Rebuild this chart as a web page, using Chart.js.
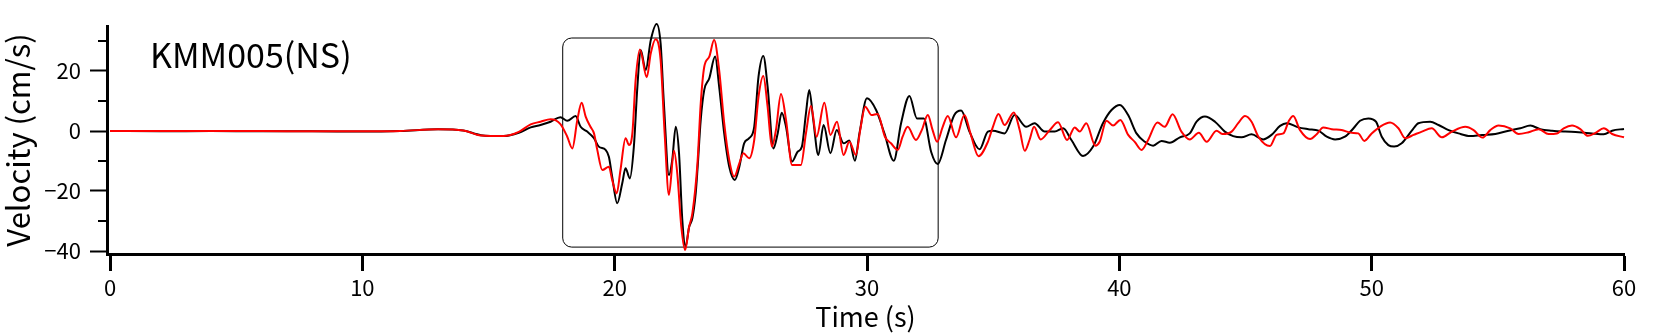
<!DOCTYPE html>
<html>
<head>
<meta charset="utf-8">
<script src="https://cdn.jsdelivr.net/npm/chart.js@4.4.1/dist/chart.umd.min.js"></script>
<style>
html,body{margin:0;padding:0;background:#fff;}
#wrap{width:1672px;height:333px;}
</style>
</head>
<body>
<div id="wrap"><canvas id="c" width="1672" height="333"></canvas></div>
<script>
// ---- data ----
const stationLabel = 'KMM005(NS)';
const xTitle = 'Time (s)';
const yTitle = 'Velocity (cm/s)';
const xTicks = [0, 10, 20, 30, 40, 50, 60];
const yTicks = [-40, -20, 0, 20];
const yTickLabels = ['\u221240', '\u221220', '0', '20'];
const yMinorTicks = [-30, -10, 10, 30];
const boxX = [17.94, 32.82];
const boxY = [-38.7, 31];

const blackT = [0,2,4,6,8,10,11.5,13,14,14.7,15.6,16.2,16.67,17.06,17.46,17.85,18.12,18.45,18.65,18.91,19.18,19.37,19.64,19.77,19.90,20.10,20.30,20.43,20.6,20.76,20.90,21.03,21.23,21.43,21.66,21.82,21.95,22.15,22.28,22.42,22.55,22.68,22.81,22.95,23.08,23.21,23.28,23.41,23.55,23.75,23.98,24.14,24.34,24.54,24.76,24.94,25.13,25.33,25.53,25.7,25.89,26.06,26.29,26.46,26.62,26.79,27.03,27.25,27.42,27.58,27.71,27.87,28.07,28.28,28.55,28.8,29.07,29.3,29.52,29.7,30.0,30.36,30.69,31.06,31.35,31.68,31.98,32.25,32.54,32.8,33.13,33.46,33.73,34.06,34.46,34.79,34.99,35.45,35.85,36.31,36.64,37.04,37.44,37.77,38.1,38.56,38.96,39.35,39.69,40.02,40.35,40.68,41.01,41.34,41.67,42.0,42.4,42.79,43.06,43.39,43.79,44.18,44.51,44.84,45.24,45.7,46.03,46.37,46.63,47.09,47.49,47.89,48.22,48.55,48.94,49.28,49.54,49.87,50.17,50.4,50.66,50.89,51.19,51.59,51.85,52.32,52.65,53.05,53.44,53.9,54.37,54.9,55.43,55.89,56.29,56.68,57.15,57.67,58.2,58.73,59.2,59.53,60];
const blackV = [0,-0.1,0,-0.1,-0.1,-0.2,0,0.6,0.2,-1.4,-1.7,-0.6,1.2,2.0,3.1,4.6,3.4,5.0,1.4,-0.2,-2.4,-5.2,-6.3,-8.6,-15.2,-24.1,-17.4,-12.4,-15.8,-5.2,14.8,27,20.3,30.3,35.7,29.2,9.2,-14.7,-9.7,1.4,-7.4,-29.7,-38.5,-32,-29,-20.8,-13,3.7,13.7,17.6,24.8,14.8,-0.8,-11.9,-16.3,-11.9,-4.1,-2.4,1.4,18.1,25,14.8,-5.8,-0.8,6.1,1.4,-10.2,-6.9,-5.2,5.9,13.7,3.7,-8,2,-7.4,0.3,-4.1,-3.2,-9.9,-0.8,10.9,7,-0.8,-9.9,2.6,11.7,4.2,4.2,-6.9,-11,-3,5.3,6.8,-0.2,-6.1,-0.2,0.1,-0.8,5.3,1.4,2.6,-0.2,-0.2,0.9,-3,-8.3,-5.2,2.6,7,8.7,5.3,-0.8,-3.6,-4.9,-3.3,-3.9,-2.1,-0.8,3.1,4.8,3.1,-0.2,-1.7,-2.1,-1.1,-2.8,-1.3,1.7,2.6,1.2,0.6,0.1,-1.9,-2.8,-1.9,0.9,3.4,4.2,3.1,-1.9,-4.7,-5.2,-4.1,0.1,2.6,3.1,2,0.3,-0.8,-1.7,-1.3,-1,0.1,0.9,1.8,0.6,0.1,-0.2,-0.4,-0.8,-1.1,0.1,0.7];

const redT = [0,2,4,6,8,10,11.5,13,14,14.7,15.6,16.2,16.67,17.06,17.46,17.85,18.12,18.32,18.52,18.69,18.85,19.04,19.18,19.31,19.51,19.77,19.9,20.08,20.23,20.43,20.57,20.7,20.83,21.0,21.27,21.43,21.62,21.82,21.98,22.15,22.35,22.48,22.64,22.79,22.95,23.08,23.28,23.41,23.55,23.75,23.94,24.14,24.34,24.54,24.74,24.94,25.1,25.33,25.53,25.7,25.89,26.06,26.23,26.39,26.59,26.79,27.03,27.38,27.58,27.78,28.0,28.31,28.55,28.81,29.07,29.3,29.56,29.73,29.93,30.18,30.42,30.71,30.95,31.22,31.41,31.61,31.94,32.17,32.41,32.6,32.78,33.0,33.2,33.53,33.86,34.1,34.42,34.79,34.99,35.21,35.45,35.82,36.05,36.25,36.44,36.62,36.88,37.24,37.57,37.93,38.23,38.43,38.69,39.05,39.22,39.49,39.75,40.04,40.35,40.61,40.88,41.14,41.51,41.8,42.11,42.46,42.79,43.15,43.46,43.85,44.08,44.45,44.71,44.98,45.24,45.51,45.97,46.23,46.5,46.72,46.89,47.16,47.56,47.82,48.08,48.42,48.81,49.21,49.47,49.71,50.0,50.33,50.73,51.06,51.33,51.66,51.99,52.38,52.78,53.18,53.71,54.04,54.39,54.7,55.03,55.49,55.82,56.22,56.62,57.01,57.34,57.61,57.94,58.27,58.57,58.87,59.2,59.53,60];
const redV = [0,0,0,0,-0.1,-0.1,0,0.6,0.2,-1.5,-1.7,-0.3,2.2,3.1,3.9,2.3,-1.9,-5.8,3.7,9.4,4.8,1.4,-0.8,-6.3,-13,-11.9,-16.3,-20.8,-13,-2.4,-4.7,-0.8,17,27.2,17.9,25.9,30.6,23.7,-0.8,-21.3,-6.6,-14.1,-31.9,-39.7,-31.9,-27.4,-10.8,9.2,21.4,24.8,30.3,20.3,2.6,-9.7,-15.2,-10.8,-7.4,-9.1,-3,11.4,18.3,8.1,-5.2,0.3,12.3,3.7,-11.3,-11.3,-0.8,8.3,-1.9,9.4,-1.3,3.1,-8,-3.6,-8,0.3,8.1,5.3,5.7,-1.9,-4.1,-6.3,-1.9,1.4,-3,0.3,5.3,0.3,-3.6,1.4,5,-2.1,5.3,-0.8,-8.4,-3.6,1.4,5.7,2,6.2,0.3,-6.6,-3,1.4,-2.8,0.3,2.9,-3,1.2,-0.2,2.6,-4.9,-3.6,3.4,1.8,3.7,-1.3,-3.6,-6.3,-3,2.8,1.4,5.6,-0.2,-2.8,-0.6,-3.6,0.1,-1,-0.2,2.6,5,3.1,-1.9,-5,-1.3,-0.8,3.4,5,0.3,-2.7,-1.1,1.2,0.6,0.3,-0.6,-0.8,-3.3,-0.8,1.4,2.8,0.9,-2.4,-1.3,-0.2,0.9,-2.1,-0.2,1.4,0.3,-2.2,0.3,1.8,0.9,-1,-0.4,0.6,-1,-0.8,0.9,1.8,0.6,-1.6,-0.6,0.9,-1,-2.1];

const FONT = '"Noto Sans CJK JP", "Noto Sans", sans-serif';

const toPts = (t, v) => t.map((x, i) => ({x: x, y: v[i]}));

const boxPlugin = {
  id: 'box',
  beforeDatasetsDraw(chart) {
    const {ctx, scales: {x, y}} = chart;
    const x0 = x.getPixelForValue(boxX[0]), x1 = x.getPixelForValue(boxX[1]);
    const y0 = y.getPixelForValue(boxY[1]), y1 = y.getPixelForValue(boxY[0]);
    const r = 9;
    ctx.save();
    ctx.strokeStyle = '#000';
    ctx.lineWidth = 1;
    ctx.beginPath();
    ctx.moveTo(x0 + r, y0);
    ctx.arcTo(x1, y0, x1, y1, r);
    ctx.arcTo(x1, y1, x0, y1, r);
    ctx.arcTo(x0, y1, x0, y0, r);
    ctx.arcTo(x0, y0, x1, y0, r);
    ctx.closePath();
    ctx.stroke();
    ctx.restore();
  }
};

const extrasPlugin = {
  id: 'extras',
  afterDraw(chart) {
    const {ctx, chartArea, scales: {y}} = chart;
    ctx.save();
    ctx.strokeStyle = '#000';
    ctx.lineWidth = 2;
    yMinorTicks.forEach(v => {
      const py = Math.round(y.getPixelForValue(v));
      ctx.beginPath();
      ctx.moveTo(chartArea.left - 9, py);
      ctx.lineTo(chartArea.left, py);
      ctx.stroke();
    });
    ctx.fillStyle = '#000';
    ctx.font = '34px ' + FONT;
    ctx.textBaseline = 'alphabetic';
    ctx.textAlign = 'left';
    ctx.fillText(stationLabel, chartArea.left + 43, chartArea.top + 42);
    ctx.restore();
  }
};

new Chart(document.getElementById('c'), {
  type: 'line',
  data: {
    datasets: [
      {label: 'red', data: toPts(redT, redV), borderColor: '#ff0000', borderWidth: 2, pointRadius: 0, cubicInterpolationMode: 'monotone', clip: false, order: 0},
      {label: 'black', data: toPts(blackT, blackV), borderColor: '#000000', borderWidth: 2, pointRadius: 0, cubicInterpolationMode: 'monotone', clip: false, order: 1}
    ]
  },
  options: {
    responsive: false,
    animation: false,
    layout: {padding: {top: 26, right: 48, left: 0, bottom: 0}},
    plugins: {legend: {display: false}, tooltip: {enabled: false}, title: {display: false}},
    scales: {
      x: {
        type: 'linear', position: 'bottom', min: -0.12, max: 60,
        afterBuildTicks: s => { s.ticks = xTicks.map(v => ({value: v})); },
        afterFit: s => { s.height = 79; },
        grid: {drawOnChartArea: false, drawTicks: true, tickLength: 17, tickWidth: 3, tickColor: '#000'},
        border: {display: true, color: '#000', width: 3},
        ticks: {color: '#000', font: {family: FONT, size: 22}, padding: 3, maxRotation: 0, autoSkip: false},
        title: {display: true, text: xTitle, color: '#000', font: {family: FONT, size: 27}, padding: {top: 0, bottom: 0}}
      },
      y: {
        type: 'linear', position: 'left', min: -41, max: 35,
        afterBuildTicks: s => { s.ticks = yTicks.map(v => ({value: v})); },
        afterFit: s => { s.width = 107; },
        grid: {drawOnChartArea: false, drawTicks: true, tickLength: 17, tickWidth: 2, tickColor: '#000'},
        border: {display: true, color: '#000', width: 3},
        ticks: {color: '#000', font: {family: FONT, size: 22}, padding: 9,
          callback: (v) => { const i = yTicks.indexOf(v); return i >= 0 ? yTickLabels[i] : ''; }},
        title: {display: true, text: yTitle, color: '#000', font: {family: FONT, size: 31}, padding: {top: 0, bottom: 0}}
      }
    }
  },
  plugins: [boxPlugin, extrasPlugin]
});
</script>
</body>
</html>
